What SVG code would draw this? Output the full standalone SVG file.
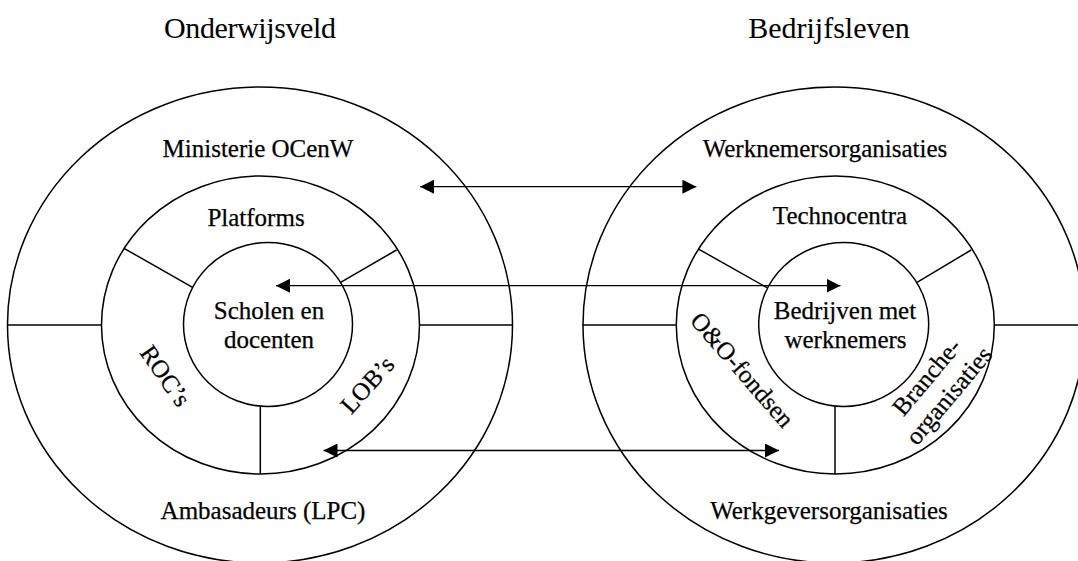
<svg xmlns="http://www.w3.org/2000/svg" width="1078" height="561" viewBox="0 0 1078 561">
<style>
.ring{fill:none;stroke:#000;stroke-width:1.5}
.div{stroke:#000;stroke-width:1.5;fill:none}
.lbl{font-family:"Liberation Serif","Times New Roman",serif;font-size:25px;fill:#000;text-anchor:middle;stroke:#000;stroke-width:0.25}
.title{font-family:"Liberation Serif","Times New Roman",serif;font-size:30px;fill:#000;text-anchor:middle}
.arr{stroke:#000;stroke-width:1.3;fill:none;marker-start:url(#ah);marker-end:url(#ah)}
</style>
<defs>
<marker id="ah" markerUnits="userSpaceOnUse" markerWidth="14" markerHeight="14" viewBox="0 0 12 12" refX="12" refY="6" orient="auto-start-reverse">
<path d="M0,0 L12,6 L0,12 Z" fill="#000"/>
</marker>
</defs>
<rect width="1078" height="561" fill="#fff"/>
<g id="title-onderwijsveld"><text class="title" x="250" y="38" textLength="172">Onderwijsveld</text></g>
<g id="title-bedrijfsleven"><text class="title" x="829" y="38">Bedrijfsleven</text></g>

<g id="onderwijs">
<ellipse class="ring" cx="260" cy="325" rx="252.5" ry="238"/>
<ellipse class="ring" cx="260.5" cy="325" rx="159" ry="149"/>
<line class="div" x1="8" y1="325" x2="101.5" y2="325"/>
<line class="div" x1="419.5" y1="325" x2="512.5" y2="325"/>
<line class="div" x1="124" y1="248.3" x2="193" y2="287.7"/>
<line class="div" x1="396.5" y1="250" x2="340.6" y2="282.3"/>
<line class="div" x1="260.3" y1="406.5" x2="260.3" y2="474"/>
<g id="scholen">
<ellipse class="ring" cx="268" cy="324.5" rx="84.5" ry="82"/>
<text class="lbl" x="269" y="319">Scholen en</text>
<text class="lbl" x="269" y="348">docenten</text>
</g>
<text class="lbl" x="258" y="157">Ministerie OCenW</text>
<text class="lbl" x="256" y="226">Platforms</text>
<text class="lbl" x="263" y="519">Ambasadeurs (LPC)</text>
<text class="lbl" transform="translate(165,376) rotate(55)" x="0" y="8">ROC’s</text>
<text class="lbl" transform="translate(367.5,385) rotate(-48)" x="0" y="8">LOB’s</text>
</g>

<g id="bedrijfsleven">
<ellipse class="ring" cx="834" cy="325" rx="251" ry="238"/>
<ellipse class="ring" cx="835.3" cy="325" rx="159" ry="149"/>
<line class="div" x1="582.5" y1="325" x2="676.3" y2="325"/>
<line class="div" x1="994.3" y1="325" x2="1078" y2="325"/>
<line class="div" x1="699" y1="249.3" x2="767" y2="287.7"/>
<line class="div" x1="971.2" y1="250" x2="917" y2="282.3"/>
<line class="div" x1="835" y1="406.5" x2="835" y2="474"/>
<g id="bedrijven">
<ellipse class="ring" cx="843.7" cy="324.5" rx="85" ry="82"/>
<text class="lbl" x="845" y="319">Bedrijven met</text>
<text class="lbl" x="845.5" y="348">werknemers</text>
</g>
<text class="lbl" x="825" y="157">Werknemersorganisaties</text>
<text class="lbl" x="840" y="224">Technocentra</text>
<text class="lbl" x="829" y="519">Werkgeversorganisaties</text>
<text class="lbl" transform="translate(742,370) rotate(49)" x="0" y="8">O&amp;O-fondsen</text>
<g transform="translate(938.3,386.7) rotate(-50)">
<text class="lbl" x="0" y="-7">Branche-</text>
<text class="lbl" x="0" y="22">organisaties</text>
</g>
</g>

<g id="connectors">
<line class="arr" x1="420" y1="186.7" x2="696.4" y2="186.7"/>
<line class="arr" x1="276" y1="285.7" x2="840.5" y2="285.7"/>
<line class="arr" x1="323.5" y1="450.5" x2="779" y2="450.5"/>
</g>
</svg>
